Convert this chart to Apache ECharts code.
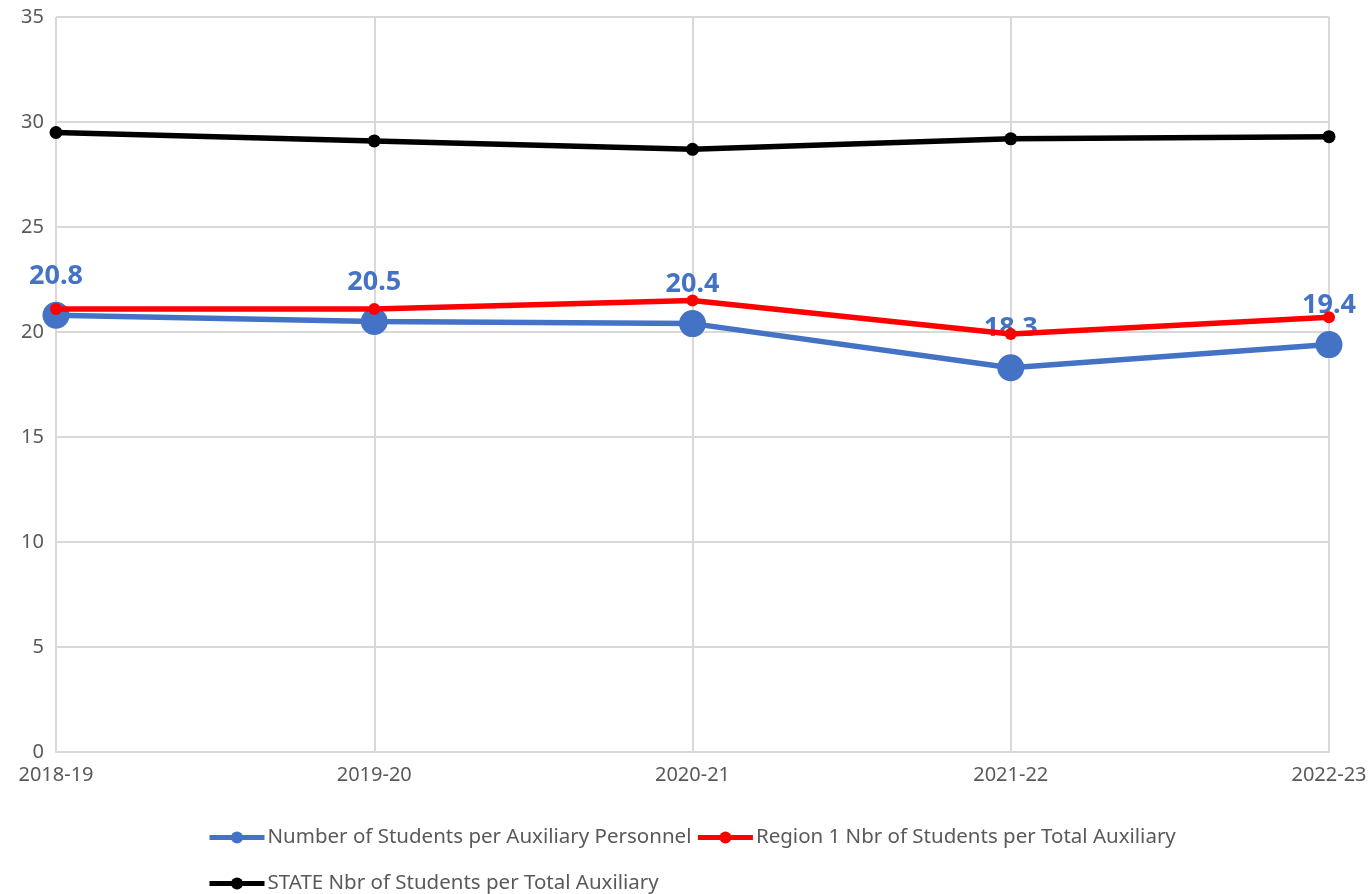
<!DOCTYPE html>
<html lang="en">

<head>
    <meta charset="UTF-8">
    <title>Students per Auxiliary</title>
    <script src="https://cdn.jsdelivr.net/npm/echarts@6/dist/echarts.min.js"></script>
    <style>
        html, body { margin: 0; padding: 0; background: #fff; }
    </style>
</head>

<body>
    <div id="chart" style="width: 1372px; height: 894px;"></div>
    <script>
        // data
        const years = ['2018-19', '2019-20', '2020-21', '2021-22', '2022-23'];
        const districtVals = [20.8, 20.5, 20.4, 18.3, 19.4];
        const regionVals = [21.1, 21.1, 21.5, 19.9, 20.7];
        const stateVals = [29.5, 29.1, 28.7, 29.2, 29.3];

        const nameDistrict = 'Number of Students per Auxiliary Personnel';
        const nameRegion = 'Region 1 Nbr of Students per Total Auxiliary';
        const nameState = 'STATE Nbr of Students per Total Auxiliary';

        const font = '"Noto Sans", sans-serif';

        let myChart = echarts.init(document.getElementById('chart'));

        let legendText = { fontFamily: font, fontSize: 20.5, color: '#595959', padding: [0, 0, 0, -2] };

        let option = {
            animation: false,
            grid: { left: 56, right: 43, top: 17, bottom: 142 },
            legend: [
                {
                    data: [nameDistrict, nameRegion],
                    left: 207, top: 827, padding: 0,
                    itemWidth: 55, itemHeight: 15, itemGap: 4,
                    lineStyle: { width: 5 },
                    textStyle: legendText
                },
                {
                    data: [nameState],
                    left: 207, top: 873, padding: 0,
                    itemWidth: 55, itemHeight: 15,
                    lineStyle: { width: 5 },
                    textStyle: legendText
                }
            ],
            xAxis: {
                type: 'category',
                boundaryGap: false,
                data: years,
                axisLine: { lineStyle: { color: '#d9d9d9', width: 2 } },
                axisTick: { show: false },
                axisLabel: { color: '#595959', fontFamily: font, fontSize: 20, margin: 13 },
                splitLine: { show: true, lineStyle: { color: '#d9d9d9', width: 2 } }
            },
            yAxis: {
                type: 'value',
                min: 0, max: 35, interval: 5,
                axisLine: { show: false },
                axisTick: { show: false },
                axisLabel: { color: '#595959', fontFamily: font, fontSize: 20, margin: 12 },
                splitLine: { lineStyle: { color: '#d9d9d9', width: 2 } }
            },
            series: [
                {
                    name: nameDistrict,
                    type: 'line',
                    data: districtVals,
                    symbol: 'circle',
                    symbolSize: 27,
                    z: 2,
                    lineStyle: { color: '#4472C4', width: 5.5 },
                    itemStyle: { color: '#4472C4' },
                    label: {
                        show: true,
                        position: 'top',
                        distance: 12,
                        color: '#4472C4',
                        fontFamily: font,
                        fontWeight: 'bold',
                        fontSize: 27,
                        formatter: p => p.value.toFixed(1)
                    },
                    labelLayout: { hideOverlap: false }
                },
                {
                    name: nameRegion,
                    type: 'line',
                    data: regionVals,
                    symbol: 'circle',
                    symbolSize: 12,
                    z: 3,
                    lineStyle: { color: '#FF0000', width: 5.5 },
                    itemStyle: { color: '#FF0000' }
                },
                {
                    name: nameState,
                    type: 'line',
                    data: stateVals,
                    symbol: 'circle',
                    symbolSize: 13,
                    z: 4,
                    lineStyle: { color: '#000000', width: 5.5 },
                    itemStyle: { color: '#000000' }
                }
            ]
        };

        myChart.setOption(option);
    </script>
</body>

</html>
